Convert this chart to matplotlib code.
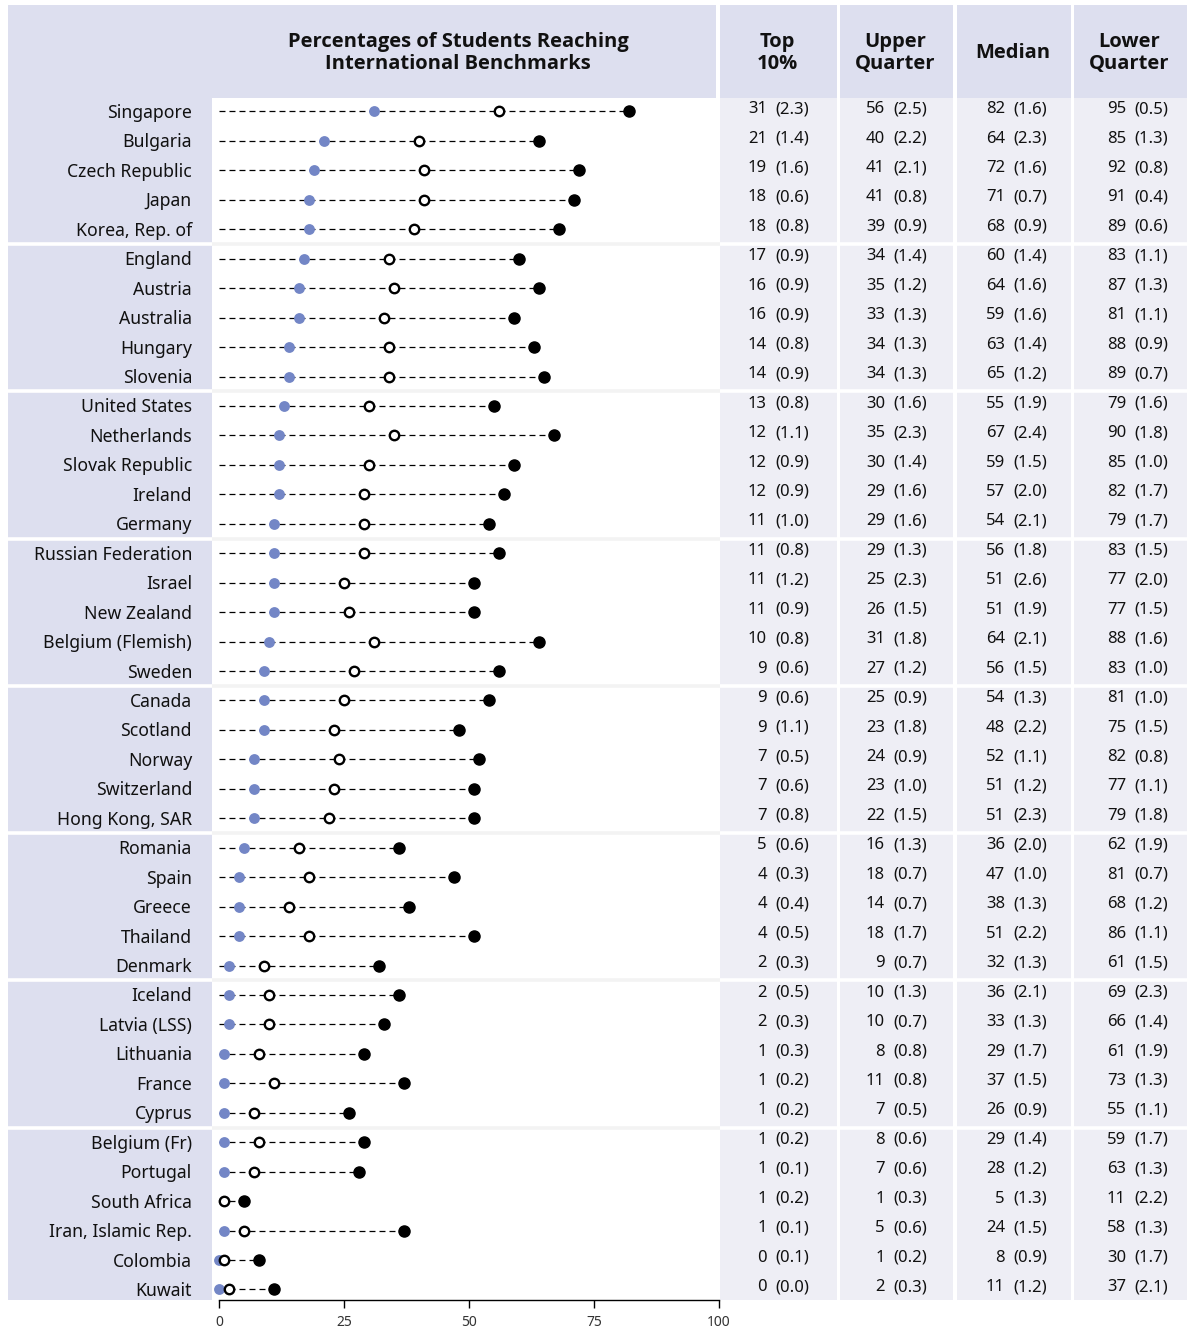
import numpy as np
import matplotlib
matplotlib.use('Agg')
import matplotlib.pyplot as plt
from matplotlib.patches import Rectangle

plt.rcParams['font.family'] = ['Noto Sans', 'DejaVu Sans']
plt.rcParams['lines.scale_dashes'] = False

countries = [
    'Singapore', 'Bulgaria', 'Czech Republic', 'Japan', 'Korea, Rep. of',
    'England', 'Austria', 'Australia', 'Hungary', 'Slovenia',
    'United States', 'Netherlands', 'Slovak Republic', 'Ireland', 'Germany',
    'Russian Federation', 'Israel', 'New Zealand', 'Belgium (Flemish)', 'Sweden',
    'Canada', 'Scotland', 'Norway', 'Switzerland', 'Hong Kong, SAR',
    'Romania', 'Spain', 'Greece', 'Thailand', 'Denmark',
    'Iceland', 'Latvia (LSS)', 'Lithuania', 'France', 'Cyprus',
    'Belgium (Fr)', 'Portugal', 'South Africa', 'Iran, Islamic Rep.', 'Colombia', 'Kuwait',
]
group_sizes = [5, 5, 5, 5, 5, 5, 5, 6]

top10 = [31, 21, 19, 18, 18, 17, 16, 16, 14, 14, 13, 12, 12, 12, 11, 11, 11, 11, 10, 9,
         9, 9, 7, 7, 7, 5, 4, 4, 4, 2, 2, 2, 1, 1, 1, 1, 1, 1, 1, 0, 0]
top10_se = [2.3, 1.4, 1.6, 0.6, 0.8, 0.9, 0.9, 0.9, 0.8, 0.9, 0.8, 1.1, 0.9, 0.9, 1.0,
            0.8, 1.2, 0.9, 0.8, 0.6, 0.6, 1.1, 0.5, 0.6, 0.8, 0.6, 0.3, 0.4, 0.5, 0.3,
            0.5, 0.3, 0.3, 0.2, 0.2, 0.2, 0.1, 0.2, 0.1, 0.1, 0.0]
upper = [56, 40, 41, 41, 39, 34, 35, 33, 34, 34, 30, 35, 30, 29, 29, 29, 25, 26, 31, 27,
         25, 23, 24, 23, 22, 16, 18, 14, 18, 9, 10, 10, 8, 11, 7, 8, 7, 1, 5, 1, 2]
upper_se = [2.5, 2.2, 2.1, 0.8, 0.9, 1.4, 1.2, 1.3, 1.3, 1.3, 1.6, 2.3, 1.4, 1.6, 1.6,
            1.3, 2.3, 1.5, 1.8, 1.2, 0.9, 1.8, 0.9, 1.0, 1.5, 1.3, 0.7, 0.7, 1.7, 0.7,
            1.3, 0.7, 0.8, 0.8, 0.5, 0.6, 0.6, 0.3, 0.6, 0.2, 0.3]
median = [82, 64, 72, 71, 68, 60, 64, 59, 63, 65, 55, 67, 59, 57, 54, 56, 51, 51, 64, 56,
          54, 48, 52, 51, 51, 36, 47, 38, 51, 32, 36, 33, 29, 37, 26, 29, 28, 5, 24, 8, 11]
median_se = [1.6, 2.3, 1.6, 0.7, 0.9, 1.4, 1.6, 1.6, 1.4, 1.2, 1.9, 2.4, 1.5, 2.0, 2.1,
             1.8, 2.6, 1.9, 2.1, 1.5, 1.3, 2.2, 1.1, 1.2, 2.3, 2.0, 1.0, 1.3, 2.2, 1.3,
             2.1, 1.3, 1.7, 1.5, 0.9, 1.4, 1.2, 1.3, 1.5, 0.9, 1.2]
lower = [95, 85, 92, 91, 89, 83, 87, 81, 88, 89, 79, 90, 85, 82, 79, 83, 77, 77, 88, 83,
         81, 75, 82, 77, 79, 62, 81, 68, 86, 61, 69, 66, 61, 73, 55, 59, 63, 11, 58, 30, 37]
lower_se = [0.5, 1.3, 0.8, 0.4, 0.6, 1.1, 1.3, 1.1, 0.9, 0.7, 1.6, 1.8, 1.0, 1.7, 1.7,
            1.5, 2.0, 1.5, 1.6, 1.0, 1.0, 1.5, 0.8, 1.1, 1.8, 1.9, 0.7, 1.2, 1.1, 1.5,
            2.3, 1.4, 1.9, 1.3, 1.1, 1.7, 1.3, 2.2, 1.3, 1.7, 2.1]

# the source figure puts Iran's median marker at about 37, not at its table value
median_marker = list(median)
median_marker[countries.index('Iran, Islamic Rep.')] = 37

title = 'Percentages of Students Reaching\nInternational Benchmarks'
column_titles = ['Top\n10%', 'Upper\nQuarter', 'Median', 'Lower\nQuarter']
xticks = [0, 25, 50, 75, 100]

W, H = 1187, 1332
HEADER = '#dddfef'
BODY = '#eeeef5'
BLUE = '#7386c6'
SEP = '#f3f3f3'
INK = '#111111'
BOLD_FONT = ['Open Sans', 'Lato', 'DejaVu Sans']

# pixel layout
TOP, HEAD_BOT, BOT = 5, 98, 1300
ROW0, PITCH = 111.5, 29.45
PLOT_L, PLOT_R = 212, 720
X0, PX_PER = 219, 5.0
cols = [(720, 837), (840, 953), (957, 1071), (1074, 1187)]
num_right = [767, 885, 1005, 1126]

n = len(countries)
y = np.arange(n)
ylim = ((BOT - ROW0) / PITCH, (HEAD_BOT - ROW0) / PITCH)
bounds = np.cumsum(group_sizes)[:-1] - 0.5


def fig_rect(x0, y0, x1, y1):
    return [x0 / W, 1 - y1 / H, (x1 - x0) / W, (y1 - y0) / H]


fig = plt.figure(figsize=(W / 100, H / 100), dpi=100)

bg = fig.add_axes([0, 0, 1, 1])
bg.set_xlim(0, W)
bg.set_ylim(H, 0)
bg.axis('off')
bg.add_patch(Rectangle((8, TOP), 716 - 8, HEAD_BOT - TOP, color=HEADER, lw=0))
bg.add_patch(Rectangle((8, HEAD_BOT), PLOT_L - 8, BOT - HEAD_BOT, color=HEADER, lw=0))
for (c0, c1), lab in zip(cols, column_titles):
    bg.add_patch(Rectangle((c0, TOP), c1 - c0, HEAD_BOT - TOP, color=HEADER, lw=0))
    bg.add_patch(Rectangle((c0, HEAD_BOT), c1 - c0, BOT - HEAD_BOT, color=BODY, lw=0))
    bg.text((c0 + c1) / 2 - 1, 53, lab, ha='center', va='center', fontsize=14.5,
            fontweight='bold', family=BOLD_FONT, linespacing=1.18, color=INK)
bg.text(458, 53, title, ha='center', va='center', fontsize=14.5,
        fontweight='bold', family=BOLD_FONT, linespacing=1.18, color=INK)

tab = fig.add_axes(fig_rect(0, HEAD_BOT, W, BOT))
tab.set_xlim(0, W)
tab.set_ylim(*ylim)
tab.axis('off')
tab.patch.set_alpha(0)
for b in bounds:
    tab.axhline(b, color='white', lw=2.6)

values = [(top10, top10_se), (upper, upper_se), (median, median_se), (lower, lower_se)]
for i in range(n):
    tab.text(192, i + 0.05, countries[i], ha='right', va='center', fontsize=12.7, color=INK)
    for (v, se), xr in zip(values, num_right):
        tab.text(xr, i - 0.08, str(v[i]), ha='right', va='center', fontsize=12, color=INK)
        tab.text(xr + 8, i - 0.08, '(%.1f)' % se[i], ha='left', va='center',
                 fontsize=12, color=INK)

ax = fig.add_axes(fig_rect(PLOT_L, HEAD_BOT, PLOT_R, BOT))
ax.set_xlim((PLOT_L - X0) / PX_PER, (PLOT_R - X0) / PX_PER)
ax.set_ylim(*ylim)
ax.set_facecolor('white')
for b in bounds:
    ax.axhline(b, color=SEP, lw=2.6, zorder=0)

for i in range(n):
    ax.plot([0, median_marker[i]], [y[i], y[i]], color='black', lw=0.9,
            dashes=(4.3, 2.9), zorder=1)
ax.plot(top10, y, 'o', ls='none', ms=7.8, color=BLUE, mec=BLUE, mew=0,
        zorder=2, clip_on=False)
ax.plot(upper, y, 'o', ls='none', ms=6.8, mfc='white', mec='black', mew=1.7,
        zorder=3, clip_on=False)
ax.plot(median_marker, y, 'o', ls='none', ms=8.0, color='black', zorder=4, clip_on=False)

for s in ['top', 'left', 'right']:
    ax.spines[s].set_visible(False)
ax.spines['bottom'].set_bounds(0, 100)
ax.spines['bottom'].set_linewidth(1.0)
ax.set_yticks([])
ax.set_xticks(xticks)
ax.tick_params(axis='x', length=5.5, width=1.0, direction='out', labelsize=10,
               labelcolor='#333333', pad=5)

fig.savefig('out.png', dpi=100)
